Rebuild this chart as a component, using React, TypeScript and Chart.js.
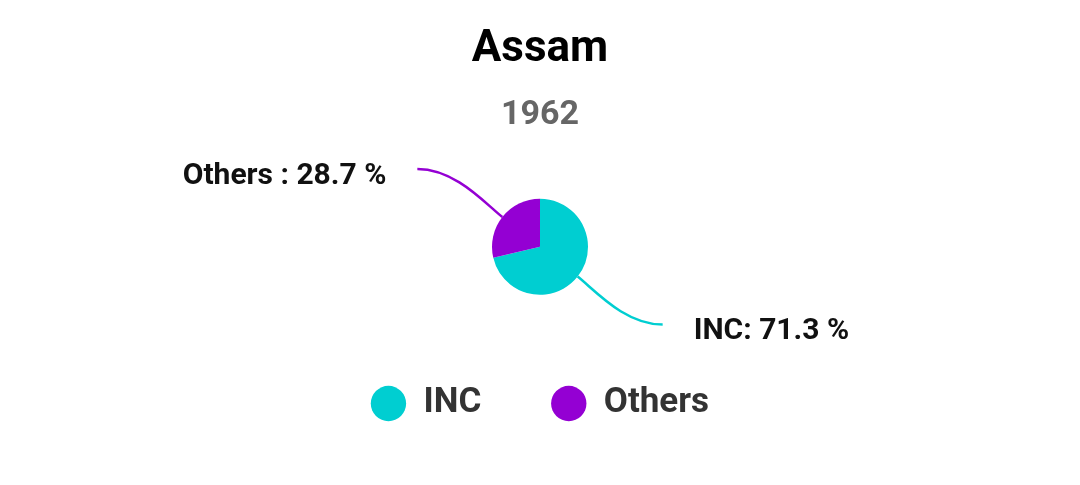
import React, { useRef, useEffect } from 'react';
import { Chart, registerables } from 'chart.js';
import type { Plugin } from 'chart.js';

Chart.register(...registerables);

const parties = ['INC', 'Others'];
const voteShare = [71.3, 28.7];
const partyColors = ['#00CED1', '#9400D3'];
// the source writes the two callouts slightly differently
const calloutSeparators = [':', ' :'];

const chartTitle = 'Assam';
const chartSubtitle = '1962';

// curved leader lines from the middle of each slice to its label
const calloutPlugin: Plugin<'pie'> = {
  id: 'callouts',
  afterDatasetsDraw(chart) {
    const { ctx } = chart;
    const meta = chart.getDatasetMeta(0);
    meta.data.forEach((arc, i) => {
      const { x, y, startAngle, endAngle, outerRadius } = arc.getProps(
        ['x', 'y', 'startAngle', 'endAngle', 'outerRadius'],
        true
      ) as any;
      const mid = (startAngle + endAngle) / 2;
      const dx = Math.cos(mid);
      const dy = Math.sin(mid);
      const sx = x + dx * outerRadius;
      const sy = y + dy * outerRadius;
      const side = dx >= 0 ? 1 : -1;
      const ex = sx + side * 85;
      const ey = sy + (dy >= 0 ? 1 : -1) * 48;

      ctx.save();
      ctx.strokeStyle = partyColors[i];
      ctx.lineWidth = 2.5;
      ctx.beginPath();
      ctx.moveTo(sx, sy);
      ctx.bezierCurveTo(sx + dx * 22, sy + dy * 22, ex - side * 38, ey, ex, ey);
      ctx.stroke();

      ctx.fillStyle = '#111111';
      ctx.font = 'bold 30px Roboto';
      ctx.textBaseline = 'middle';
      ctx.textAlign = side > 0 ? 'left' : 'right';
      const text = `${parties[i]}${calloutSeparators[i]} ${voteShare[i]} %`;
      ctx.fillText(text, ex + side * 31, ey + 7);
      ctx.restore();
    });
  },
};

const PieChart: React.FC = () => {
  const chartRef = useRef<HTMLCanvasElement>(null);
  const chartInstance = useRef<Chart | null>(null);

  useEffect(() => {
    document.body.style.margin = '0';
    if (!chartRef.current) return;
    const ctx = chartRef.current.getContext('2d');
    if (!ctx) return;

    if (chartInstance.current) {
      chartInstance.current.destroy();
    }

    Chart.defaults.font.family = 'Roboto';

    chartInstance.current = new Chart(ctx, {
      type: 'pie',
      data: {
        labels: parties,
        datasets: [
          {
            data: voteShare,
            backgroundColor: partyColors,
            borderWidth: 0,
          },
        ],
      },
      options: {
        responsive: true,
        maintainAspectRatio: false,
        animation: false,
        radius: 48,
        layout: {
          padding: { top: 0, bottom: 54 },
        },
        plugins: {
          title: {
            display: true,
            text: chartTitle,
            color: '#000000',
            font: { size: 44, weight: 'bold' },
            padding: { top: 24, bottom: 10 },
          },
          subtitle: {
            display: true,
            text: chartSubtitle,
            color: '#666666',
            font: { size: 34, weight: 'bold' },
            padding: { top: 8, bottom: 42 },
          },
          legend: {
            position: 'bottom',
            labels: {
              usePointStyle: true,
              pointStyle: 'circle',
              boxHeight: 25,
              padding: 70,
              color: '#333333',
              font: { size: 35, weight: 'bold' },
            },
          },
          tooltip: { enabled: false },
        },
      },
      plugins: [calloutPlugin],
    });

    return () => {
      if (chartInstance.current) {
        chartInstance.current.destroy();
        chartInstance.current = null;
      }
    };
  }, []);

  return (
    <div style={{ position: 'relative', width: '1080px', height: '485px', background: '#ffffff' }}>
      <canvas ref={chartRef} />
    </div>
  );
};

export default function App() {
  return <PieChart />;
}
